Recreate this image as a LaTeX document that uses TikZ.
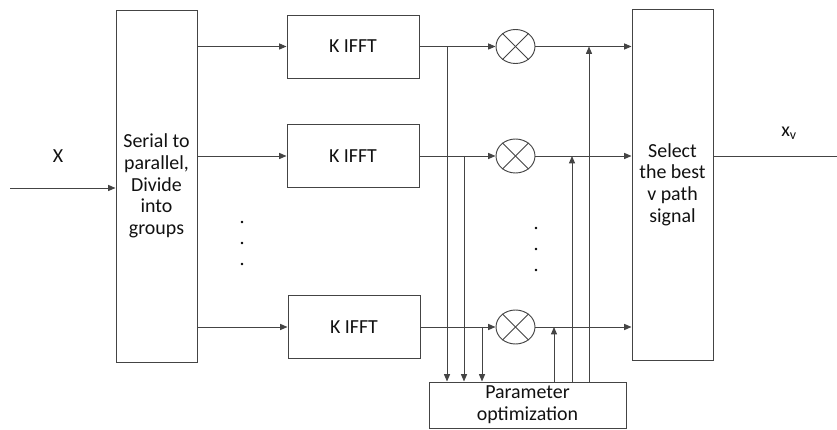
\documentclass[tikz,border=0pt]{standalone}
\usepackage{fontspec}
\setmainfont{Carlito}
\usepackage{xcolor}
\usetikzlibrary{arrows.meta, shapes.geometric, calc}
\definecolor{cLine}{HTML}{444444}
\definecolor{cText}{HTML}{111111}
\tikzset{
  bigbox/.style    ={draw=cLine, line width=0.8pt, align=center,
                     minimum width=2.43cm, text=cText,
                     font=\fontsize{17}{18.5}\selectfont, inner sep=2pt},
  ifftbox/.style   ={draw=cLine, line width=0.8pt, align=center,
                     minimum width=3.96cm, minimum height=1.89cm, text=cText,
                     font=\fontsize{17}{19}\selectfont},
  parbox/.style    ={draw=cLine, line width=0.8pt, align=center,
                     minimum width=5.91cm, minimum height=1.38cm, text=cText,
                     font=\fontsize{17}{18.5}\selectfont},
  mixer/.style     ={ellipse, draw=cLine, line width=0.8pt,
                     minimum width=1.17cm, minimum height=1.02cm, inner sep=0pt},
  lbl/.style       ={text=cText, font=\fontsize{17}{19}\selectfont},
  flow/.style      ={-{Triangle[length=0.22cm, width=0.18cm]}, line width=0.8pt, draw=cLine},
  plain/.style     ={line width=0.8pt, draw=cLine},
}

\begin{document}
\begin{tikzpicture}[x=0.03cm, y=-0.03cm]

  \useasboundingbox (0,0) rectangle (837,430);

  % ============================================================
  % BLOCKS
  % ============================================================
  \node[bigbox, minimum height=10.56cm] (serial) at (156.5,186)
    {Serial to\\parallel,\\Divide\\into\\groups};
  \node[bigbox, minimum height=10.53cm] (select) at (672.5,184.5)
    {Select\\the best\\v path\\signal};

  \node[ifftbox] (ifft1) at (353,46.5)  {K IFFT};
  \node[ifftbox] (ifft2) at (353,156)   {K IFFT};
  \node[ifftbox] (ifft3) at (354,327)   {K IFFT};

  \node[mixer] (mul1) at (515.5,46.5) {};
  \node[mixer] (mul2) at (515.5,156)  {};
  \node[mixer] (mul3) at (515.5,327)  {};
  \foreach \m in {mul1,mul2,mul3}{
    \draw[plain] (\m.45) -- (\m.225);
    \draw[plain] (\m.135) -- (\m.315);
  }

  \node[parbox] (param) at (527.5,405) {Parameter\\optimization};

  % --- input / output labels ---
  \node[lbl] (xin)  at (58,156)  {X};
  \node[lbl] (xout) at (789,133) {x\textsubscript{v}};

  \coordinate (src) at (10,188);
  \coordinate (dst) at (837,156);

  % ============================================================
  % MAIN FLOW
  % ============================================================
  \draw[flow] (src) -- (src -| serial.west);
  \foreach \i in {1,2,3}{
    \draw[flow] (serial.east |- ifft\i.west) -- (ifft\i.west);
    \draw[flow] (ifft\i.east) -- (mul\i.west);
    \draw[flow] (mul\i.east) -- (mul\i.east -| select.west);
  }
  \draw[plain] (select.east |- dst) -- (dst);

  % ============================================================
  % TAPS DOWN INTO PARAMETER OPTIMIZATION, AND BACK UP
  % ============================================================
  \coordinate (t1) at (447,0);
  \coordinate (t2) at (464,0);
  \coordinate (t3) at (482,0);
  \draw[flow] (t1 |- ifft1.east) -- (t1 |- param.north);
  \draw[flow] (t2 |- ifft2.east) -- (t2 |- param.north);
  \draw[flow] (t3 |- ifft3.east) -- (t3 |- param.north);

  \coordinate (f3) at (554,0);
  \coordinate (f2) at (572,0);
  \coordinate (f1) at (589,0);
  \draw[flow] (f3 |- param.north) -- (f3 |- mul3.east);
  \draw[flow] (f2 |- param.north) -- (f2 |- mul2.east);
  \draw[flow] (f1 |- param.north) -- (f1 |- mul1.east);

  % --- ellipsis dots ---
  \foreach \y in {222,243,264} \fill[black] (242,\y) circle (1.4);
  \foreach \y in {228,249,270} \fill[black] (536,\y) circle (1.4);

\end{tikzpicture}
\end{document}
